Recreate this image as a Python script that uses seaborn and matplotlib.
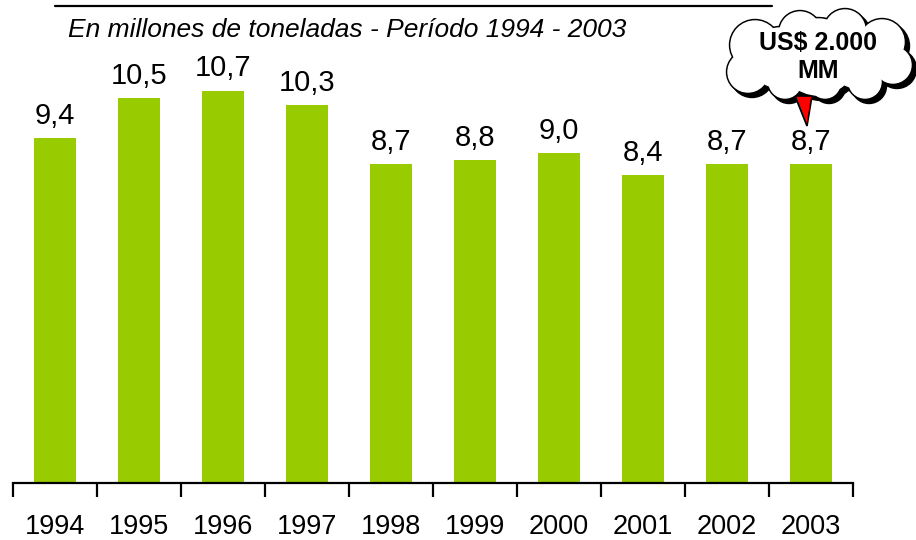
import matplotlib
matplotlib.use("Agg")
import matplotlib.pyplot as plt
import seaborn as sns
import pandas as pd
from matplotlib.patches import Circle, Polygon
from matplotlib.lines import Line2D
from matplotlib.transforms import Affine2D

# data
years = ["1994", "1995", "1996", "1997", "1998", "1999", "2000", "2001", "2002", "2003"]
tonnes = [9.4, 10.5, 10.7, 10.3, 8.7, 8.8, 9.0, 8.4, 8.7, 8.7]
subtitle = "En millones de toneladas - Período 1994 - 2003"
callout = "US$ 2.000\nMM"

sns.set_style("white")
plt.rcParams['font.family'] = ['Liberation Sans', 'DejaVu Sans']
plt.rcParams['text.color'] = 'black'

df = pd.DataFrame({"year": years, "value": tonnes})

W, H = 916, 540
fig = plt.figure(figsize=(W / 100, H / 100), dpi=100)
ax = fig.add_axes([13 / W, 1 - 483 / H, 840 / W, 440 / H])

sns.barplot(data=df, x="year", y="value", color="#99CC00", saturation=1,
            width=0.5, linewidth=0, ax=ax)

labels = [f"{v:.1f}".replace(".", ",") for v in tonnes]
ax.bar_label(ax.containers[0], labels=labels, padding=6, fontsize=21,
             color="black")

ax.set_xlim(-0.5, len(years) - 0.5)
ax.set_ylim(0, 12)
ax.set_xlabel("")
ax.set_ylabel("")
ax.set_yticks([])
for s in ["top", "right", "left"]:
    ax.spines[s].set_visible(False)
ax.spines["bottom"].set_linewidth(1.6)
ax.spines["bottom"].set_color("black")

# ticks at the category boundaries, labels at centres
ax.set_xticks([i - 0.5 for i in range(len(years) + 1)], minor=True)
ax.tick_params(axis="x", which="minor", length=10, width=1.6, color="black",
               direction="out", bottom=True)
ax.tick_params(axis="x", which="major", length=0, pad=22, labelsize=19.5,
               labelcolor="black")

# header line and subtitle
px = Affine2D().scale(1 / W, -1 / H).translate(0, 1) + fig.transFigure
fig.add_artist(Line2D([55, 772], [6, 6], transform=px, color="black", lw=1.6))
fig.text(68 / W, 1 - 37 / H, subtitle, style="italic", fontsize=19,
         va="baseline", ha="left")

# cloud callout
lobes = [(755, 45, 24), (800, 32, 20), (845, 30, 20), (882, 42, 22),
         (893, 65, 18), (865, 82, 16), (825, 83, 15), (785, 82, 16),
         (748, 72, 20), (818, 57, 38), (780, 58, 30), (858, 58, 30)]
for cx, cy, r in lobes:
    fig.add_artist(Circle((cx + 4, cy + 4), r + 1.5, transform=px,
                          color="black", zorder=5))
for cx, cy, r in lobes:
    fig.add_artist(Circle((cx, cy), r + 1.5, transform=px,
                          color="black", zorder=6))
fig.add_artist(Polygon([[795, 96], [812, 96], [807, 126]], closed=True,
                       transform=px, facecolor="red", edgecolor="black",
                       lw=1.2, zorder=6.5))
for cx, cy, r in lobes:
    fig.add_artist(Circle((cx, cy), r, transform=px,
                          color="white", zorder=7))
fig.text(818 / W, 1 - 57 / H, callout, fontsize=18, fontweight="bold",
         ha="center", va="center", linespacing=1.2, zorder=8)

fig.savefig("out.png", dpi=100)
